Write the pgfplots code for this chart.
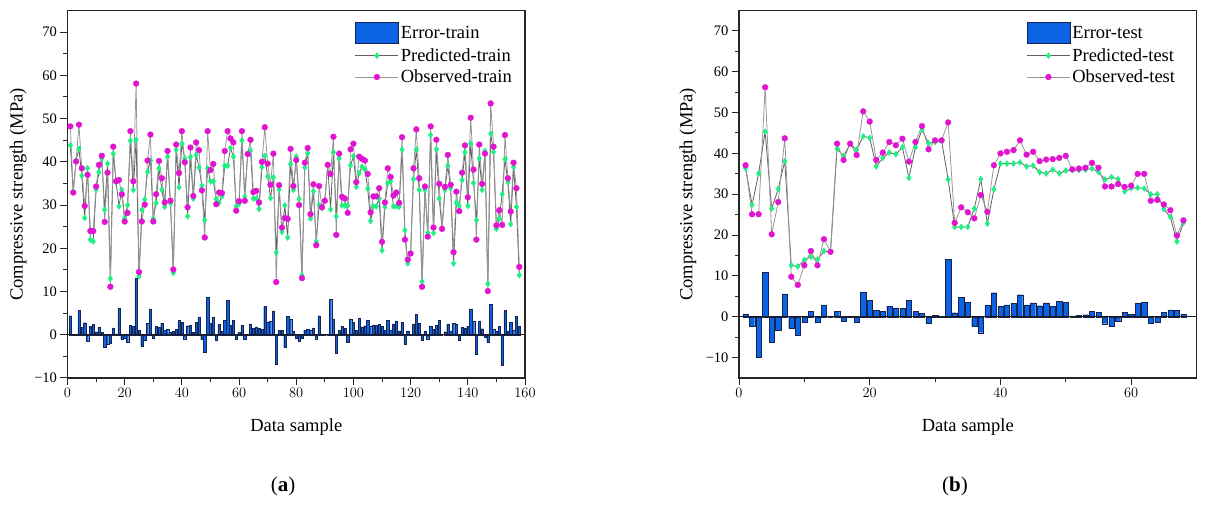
\documentclass[border=0pt]{standalone}
\usepackage{fontspec}
\setmainfont{Liberation Serif}
\usepackage{pgfplots}
\usepackage{pgfplotstable}
\pgfplotsset{compat=1.18}
\definecolor{barblue}{RGB}{12,100,228}
\definecolor{baredge}{RGB}{20,35,80}
\definecolor{predgreen}{RGB}{30,240,130}
\definecolor{obsmag}{RGB}{225,20,210}
\definecolor{predline}{RGB}{95,95,95}
\definecolor{obsline}{RGB}{150,150,150}

\pgfplotstableread{
i obs pred err
1 48.2 43.8 4.4
2 32.9 33.1 -0.2
3 40.1 40.3 -0.2
4 48.6 43.0 5.6
5 38.5 36.8 1.7
6 29.8 27.0 2.8
7 37.0 38.5 -1.5
8 24.0 22.0 2.0
9 24.0 21.6 2.4
10 34.3 33.6 0.7
11 39.3 37.6 1.7
12 41.4 40.8 0.6
13 26.1 28.9 -2.8
14 37.5 39.6 -2.1
15 11.1 13.0 -1.9
16 43.5 41.9 1.6
17 35.5 35.3 0.2
18 35.8 29.7 6.1
19 32.5 33.5 -1.0
20 26.2 26.9 -0.7
21 28.2 30.0 -1.8
22 47.1 44.9 2.2
23 35.5 33.5 2.0
24 58.1 45.1 13.0
25 14.5 13.5 1.0
26 26.2 28.9 -2.7
27 30.1 31.3 -1.2
28 40.3 37.7 2.6
29 46.3 40.3 6.0
30 26.2 26.9 -0.7
31 32.5 30.5 2.0
32 40.2 38.5 1.7
33 36.2 33.5 2.7
34 30.6 29.6 1.0
35 42.5 41.2 1.3
36 31.0 30.4 0.6
37 15.1 14.3 0.8
38 44.0 42.8 1.2
39 37.4 34.1 3.3
40 47.1 44.2 2.9
41 39.9 40.8 -0.9
42 29.5 27.4 2.1
43 43.3 41.1 2.2
44 32.1 31.5 0.6
45 44.5 41.6 2.9
46 42.7 38.7 4.0
47 33.4 34.5 -1.1
48 22.5 26.5 -4.0
49 47.1 38.5 8.6
50 38.1 35.5 2.6
51 39.5 35.5 4.0
52 30.2 31.4 -1.2
53 32.9 30.5 2.4
54 32.8 32.0 0.8
55 42.5 39.1 3.4
56 47.1 39.1 8.0
57 45.4 43.2 2.2
58 44.5 41.2 3.3
59 28.7 29.7 -1.0
60 30.9 30.3 0.6
61 47.1 44.9 2.2
62 31.0 32.0 -1.0
63 41.8 41.8 0.0
64 45.1 42.6 2.5
65 33.0 31.5 1.5
66 33.3 31.5 1.8
67 30.6 29.1 1.5
68 40.0 38.8 1.2
69 48.0 41.4 6.6
70 39.6 36.6 3.0
71 34.7 31.6 3.1
72 41.9 36.4 5.5
73 12.2 19.0 -6.8
74 34.6 33.6 1.0
75 24.8 23.8 1.0
76 27.0 29.9 -2.9
77 26.8 22.5 4.3
78 43.0 39.5 3.5
79 34.4 33.5 0.9
80 40.4 41.2 -0.8
81 30.0 31.4 -1.4
82 13.1 13.8 -0.7
83 39.8 38.7 1.1
84 43.2 42.0 1.2
85 27.9 26.9 1.0
86 34.8 33.2 1.6
87 20.7 21.6 -0.9
88 34.4 30.0 4.4
89 29.5 29.3 0.2
90 31.0 31.0 0.0
91 39.3 39.3 0.0
92 37.2 29.0 8.2
93 45.8 42.2 3.6
94 23.1 27.4 -4.3
95 41.9 40.8 1.1
96 31.9 29.9 2.0
97 31.5 29.9 1.6
98 28.2 29.9 -1.7
99 42.9 39.2 3.7
100 44.2 41.3 2.9
101 35.3 34.2 1.1
102 41.2 37.4 3.8
103 40.7 38.9 1.8
104 40.3 38.2 2.1
105 37.2 33.8 3.4
106 28.3 26.3 2.0
107 32.0 29.7 2.3
108 32.0 29.7 2.3
109 33.9 31.5 2.4
110 21.5 19.5 2.0
111 30.6 29.6 1.0
112 38.5 35.1 3.4
113 36.5 35.5 1.0
114 32.2 29.7 2.5
115 32.9 29.7 3.2
116 30.5 29.6 0.9
117 45.7 42.8 2.9
118 22.0 24.2 -2.2
119 17.4 16.5 0.9
120 18.8 18.9 -0.1
121 38.5 36.0 2.5
122 47.5 42.8 4.7
123 36.2 33.5 2.7
124 11.1 12.3 -1.2
125 34.3 33.5 0.8
126 22.7 23.6 -0.9
127 48.2 46.2 2.0
128 24.8 23.5 1.3
129 45.1 42.9 2.2
130 34.9 31.5 3.4
131 24.5 24.5 0.0
132 34.2 33.5 0.7
133 41.6 39.1 2.5
134 34.7 33.9 0.8
135 19.1 16.5 2.6
136 33.1 30.6 2.5
137 28.6 29.8 -1.2
138 37.5 35.8 1.7
139 43.8 42.2 1.6
140 31.8 29.8 2.0
141 50.2 44.2 6.0
142 38.2 35.1 3.1
143 22.0 26.5 -4.5
144 44.0 40.8 3.2
145 34.9 33.5 1.4
146 41.9 42.5 -0.6
147 10.1 11.8 -1.7
148 53.5 46.5 7.0
149 43.5 42.3 1.2
150 25.3 24.5 0.8
151 28.8 26.9 1.9
152 25.4 32.5 -7.1
153 46.2 40.6 5.6
154 36.2 35.3 0.9
155 28.5 25.6 2.9
156 39.8 38.8 1.0
157 33.9 29.6 4.3
158 15.7 13.8 1.9
}\traindata

\pgfplotstableread{
i obs pred err
1 37.1 36.4 0.7
2 25.1 27.4 -2.3
3 25.1 35.1 -10.0
4 56.2 45.3 10.9
5 20.2 26.5 -6.3
6 28.1 31.3 -3.2
7 43.7 38.1 5.6
8 9.8 12.6 -2.8
9 7.8 12.3 -4.5
10 12.6 13.9 -1.3
11 16.1 14.7 1.4
12 12.6 14.0 -1.4
13 19.0 16.1 2.9
14 15.9 15.9 0.0
15 42.4 41.1 1.3
16 38.4 39.4 -1.0
17 42.4 42.3 0.1
18 39.6 40.9 -1.3
19 50.3 44.2 6.1
20 47.8 43.8 4.0
21 38.4 36.8 1.6
22 40.2 38.9 1.3
23 42.8 40.2 2.6
24 42.0 39.8 2.2
25 43.6 41.5 2.1
26 38.0 34.0 4.0
27 42.8 41.5 1.3
28 46.7 45.8 0.9
29 41.0 42.5 -1.5
30 43.2 42.8 0.4
31 43.2 43.1 0.1
32 47.6 33.6 14.0
33 23.0 22.0 1.0
34 26.8 22.0 4.8
35 25.6 22.0 3.6
36 24.1 26.5 -2.4
37 29.8 33.7 -3.9
38 25.7 22.8 2.9
39 37.1 31.2 5.9
40 40.0 37.5 2.5
41 40.4 37.5 2.9
42 40.8 37.5 3.3
43 43.2 37.8 5.4
44 39.7 36.8 2.9
45 40.4 37.0 3.4
46 38.1 35.4 2.7
47 38.5 35.1 3.4
48 38.6 36.0 2.6
49 38.9 35.1 3.8
50 39.4 35.8 3.6
51 36.1 35.9 0.2
52 36.3 35.9 0.4
53 36.5 36.0 0.5
54 37.7 36.3 1.4
55 36.5 35.4 1.1
56 31.9 33.6 -1.7
57 31.9 34.2 -2.3
58 32.5 33.7 -1.2
59 31.8 30.7 1.1
60 32.1 31.5 0.6
61 35.0 31.6 3.4
62 35.0 31.4 3.6
63 28.4 30.0 -1.6
64 28.6 30.0 -1.4
65 27.5 26.4 1.1
66 26.1 24.4 1.7
67 19.9 18.4 1.5
68 23.6 23.0 0.6
}\testdata

\pgfplotsset{
  panel/.style={
    scale only axis,
    width=457.5pt, height=367.5pt,
    axis line style={black!85, line width=1.2pt},
    every tick/.style={black!85, line width=1pt},
    major tick length=7pt, minor tick length=4pt,
    tick align=outside,
    xtick pos=left, ytick pos=left,
    ymax=75,
    ytick={-10,0,10,20,30,40,50,60,70},
    yticklabels={−10,0,10,20,30,40,50,60,70},
    minor y tick num=1,
    minor x tick num=1,
    tick label style={font=\fontsize{14.5}{16}\selectfont},
    label style={font=\fontsize{18.5}{21}\selectfont},
    xlabel={Data sample},
    ylabel={Compressive strength (MPa)},
    ylabel style={at={(axis description cs:-0.108,0.5)}, anchor=center},
    xlabel style={at={(axis description cs:0.5,0)}, anchor=north, yshift=-37pt},
    legend style={font=\fontsize{18.5}{21}\selectfont, draw=none, fill=none,
      at={(axis description cs:0.628,0.97)}, anchor=north west,
      inner sep=0pt, row sep=3pt, legend cell align=left},
    legend cell align=left,
  },
  barplot/.style={ybar, bar width=0.8, fill=barblue, draw=baredge, line width=0.3pt,
    legend image code/.code={\draw[fill=barblue, draw=baredge, line width=0.8pt] (0pt,-10pt) rectangle (43pt,11pt);}},
  predplot/.style={predline, line width=0.8pt, mark=diamond*, mark size=3pt,
    mark options={fill=predgreen, draw=predgreen, line width=0.4pt},
    legend image code/.code={\draw[mark repeat=2, mark phase=2, ##1] plot coordinates {(0pt,0pt) (21.5pt,0pt) (43pt,0pt)};}},
  obsplot/.style={obsline, line width=0.8pt, mark=*, mark size=2.9pt,
    mark options={fill=obsmag, draw=obsmag, line width=0.4pt},
    legend image code/.code={\draw[mark repeat=2, mark phase=2, ##1] plot coordinates {(0pt,0pt) (21.5pt,0pt) (43pt,0pt)};}},
}

\begin{document}
\begin{tikzpicture}
\path[use as bounding box] (0pt,0pt) rectangle (1207pt,508pt);

\begin{axis}[panel, at={(67.5pt,130pt)}, anchor=south west,
  xmin=0, xmax=160, ymin=-10,
  xtick={0,20,40,60,80,100,120,140,160}]
\addplot[barplot] table[x=i, y=err] {\traindata};
\addlegendentry{Error-train}
\addplot[predplot] table[x=i, y=pred] {\traindata};
\addlegendentry{Predicted-train}
\addplot[obsplot] table[x=i, y=obs] {\traindata};
\addlegendentry{Observed-train}
\addplot[forget plot, black!90, line width=1.2pt] coordinates {(0,0) (160,0)};
\end{axis}

\begin{axis}[panel, at={(739pt,130pt)}, anchor=south west,
  xmin=0, xmax=70, ymin=-15,
  xtick={0,20,40,60},
  ylabel style={at={(axis description cs:-0.1116,0.5)}}]
\addplot[barplot] table[x=i, y=err] {\testdata};
\addlegendentry{Error-test}
\addplot[predplot] table[x=i, y=pred] {\testdata};
\addlegendentry{Predicted-test}
\addplot[obsplot] table[x=i, y=obs] {\testdata};
\addlegendentry{Observed-test}
\addplot[forget plot, black!90, line width=1.2pt] coordinates {(0,0) (70,0)};
\end{axis}

\node[font=\fontsize{21}{24}\selectfont] at (283pt,21.3pt) {(\textbf{a})};
\node[font=\fontsize{21}{24}\selectfont] at (955pt,21.3pt) {(\textbf{b})};
\end{tikzpicture}
\end{document}
